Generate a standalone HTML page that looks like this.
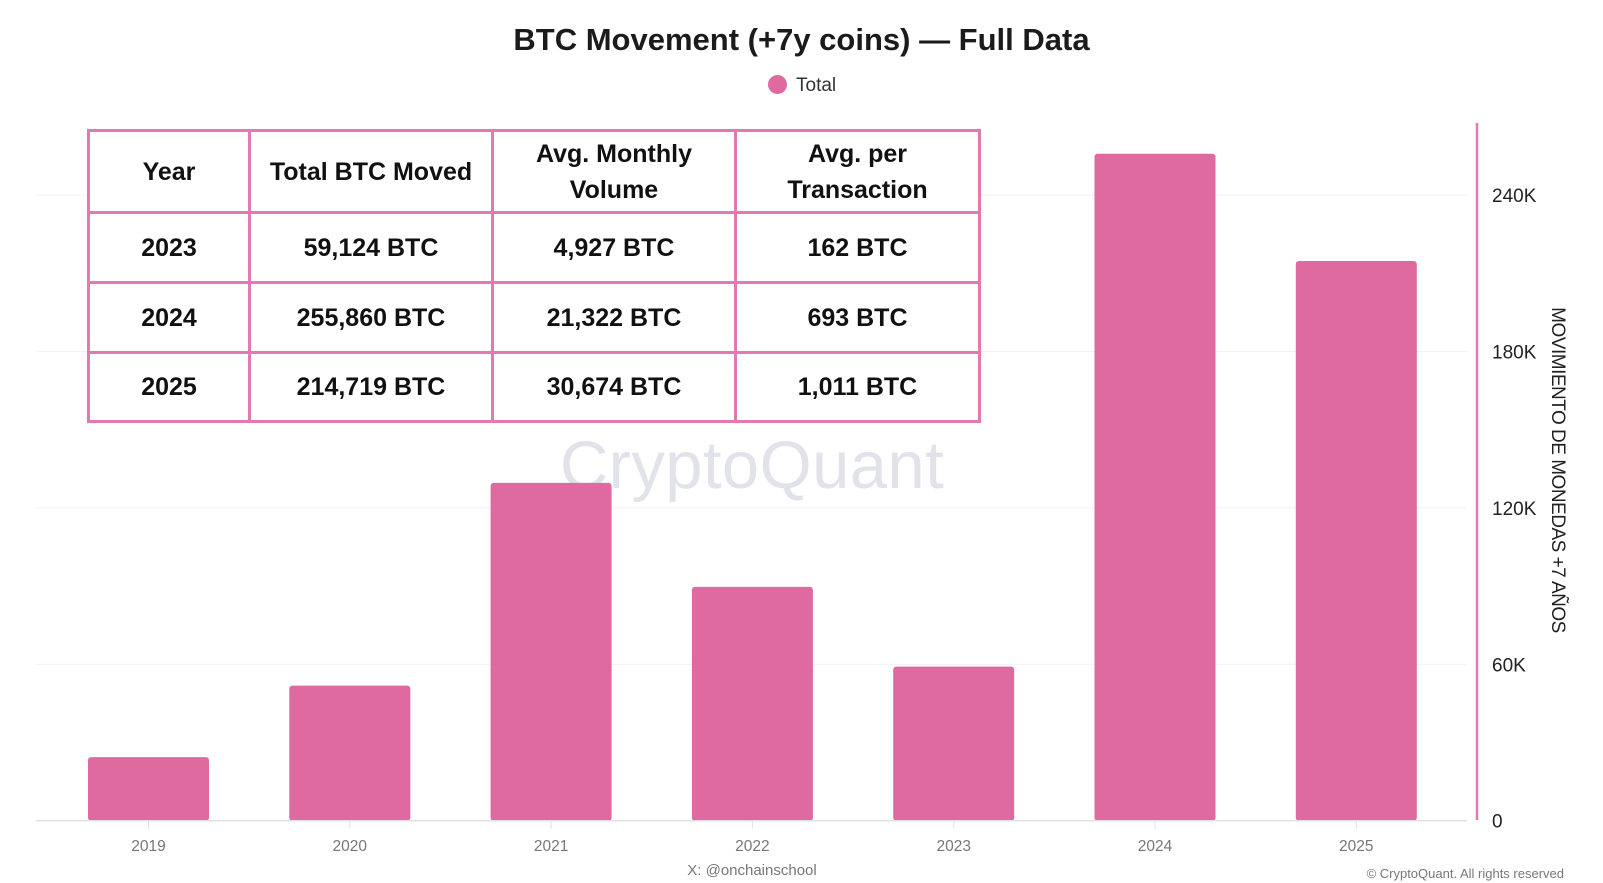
<!DOCTYPE html>
<html><head><meta charset="utf-8"><style>
body{margin:0;background:#fff;width:1603px;height:883px;overflow:hidden;font-family:"Liberation Sans",sans-serif;position:relative}
.abs{position:absolute}
#tbl{position:absolute;left:87px;top:129px;border-collapse:collapse;table-layout:fixed;width:891px;font-family:"Liberation Sans",sans-serif;font-weight:bold;color:#111;background:#fff}
#tbl td{border:3px solid #e07ab0;text-align:center;font-size:25px;padding:0;line-height:36px}
</style></head><body>
<svg id="chart" class="abs" style="left:0;top:0" width="1603" height="883"></svg>
<div class="abs" style="left:0;width:1603px;top:22px;text-align:center;font-size:31px;font-weight:bold;color:#1b1b1b">BTC Movement (+7y coins) — Full Data</div>
<div class="abs" style="left:768px;top:74px;font-size:19px;color:#333;line-height:24px"><span style="display:inline-block;width:19px;height:19px;border-radius:50%;background:#de6a9f;vertical-align:-3px;margin-right:9px"></span>Total</div>
<table id="tbl">
<colgroup><col style="width:161px"><col style="width:243px"><col style="width:243px"><col style="width:244px"></colgroup>
<tr style="height:82px"><td>Year</td><td>Total BTC Moved</td><td>Avg. Monthly<br>Volume</td><td>Avg. per<br>Transaction</td></tr>
<tr style="height:70px"><td>2023</td><td>59,124 BTC</td><td>4,927 BTC</td><td>162 BTC</td></tr>
<tr style="height:70px"><td>2024</td><td>255,860 BTC</td><td>21,322 BTC</td><td>693 BTC</td></tr>
<tr style="height:69px"><td>2025</td><td>214,719 BTC</td><td>30,674 BTC</td><td>1,011 BTC</td></tr>
</table>
<div class="abs" style="left:1557px;top:470px;transform:translate(-50%,-50%) rotate(90deg);white-space:nowrap;font-size:19px;color:#222;letter-spacing:-0.5px">MOVIMIENTO DE MONEDAS +7 AÑOS</div>
<div class="abs" style="left:0;width:1504px;top:862px;text-align:center;font-size:15px;color:#777">X: @onchainschool</div>
<div class="abs" style="right:39px;top:866px;font-size:13px;color:#777">© CryptoQuant. All rights reserved</div>
<script>
const categories=["2019","2020","2021","2022","2023","2024","2025"];
const totals=[24400,51800,129600,89700,59124,255860,214719];
const yTicks=[0,60000,120000,180000,240000];
const yTickLabels=["0","60K","120K","180K","240K"];
const svg=document.getElementById('chart');
const NS='http://www.w3.org/2000/svg';
const base=820.7, pxPer=156.4/60000;
const y=v=>base-v*pxPer;
const x0=148.5, step=201.3, bw=121;
const x=i=>x0+i*step;
function mk(t,a){const e=document.createElementNS(NS,t);for(const k in a)e.setAttribute(k,a[k]);svg.appendChild(e);return e;}
yTicks.forEach((v,i)=>{
 if(v>0){const g=mk('line',{x1:36,x2:1467,y1:y(v),y2:y(v),stroke:'#f1f1f4','stroke-width':1});
 
 }
 const t=mk('text',{x:1492,y:y(v)+7,'font-size':19,fill:'#222'});t.textContent=yTickLabels[i];
 
 
});
const wm=mk('text',{x:752,y:488,'font-size':67,fill:'#e2e3ea','text-anchor':'middle','letter-spacing':0.4});
wm.textContent='CryptoQuant';


categories.forEach((c,i)=>{
 const b=mk('rect',{x:x(i)-bw/2,y:y(totals[i]),width:bw,height:base-y(totals[i]),rx:3,fill:'#de6a9f'});
 
 
 const tk=mk('line',{x1:x(i),x2:x(i),y1:base,y2:base+8,stroke:'#e0e0e4'});
 
 
 const t=mk('text',{x:x(i),y:851,'font-size':15.5,fill:'#777','text-anchor':'middle'});t.textContent=c;
 
 
});
const ax=mk('line',{x1:36,x2:1467,y1:base,y2:base,stroke:'#e0e0e4','stroke-width':1.5});


const ra=mk('line',{x1:1477,x2:1477,y1:123,y2:820,stroke:'#e07ab0','stroke-width':2.5});


</script>
</body></html>
